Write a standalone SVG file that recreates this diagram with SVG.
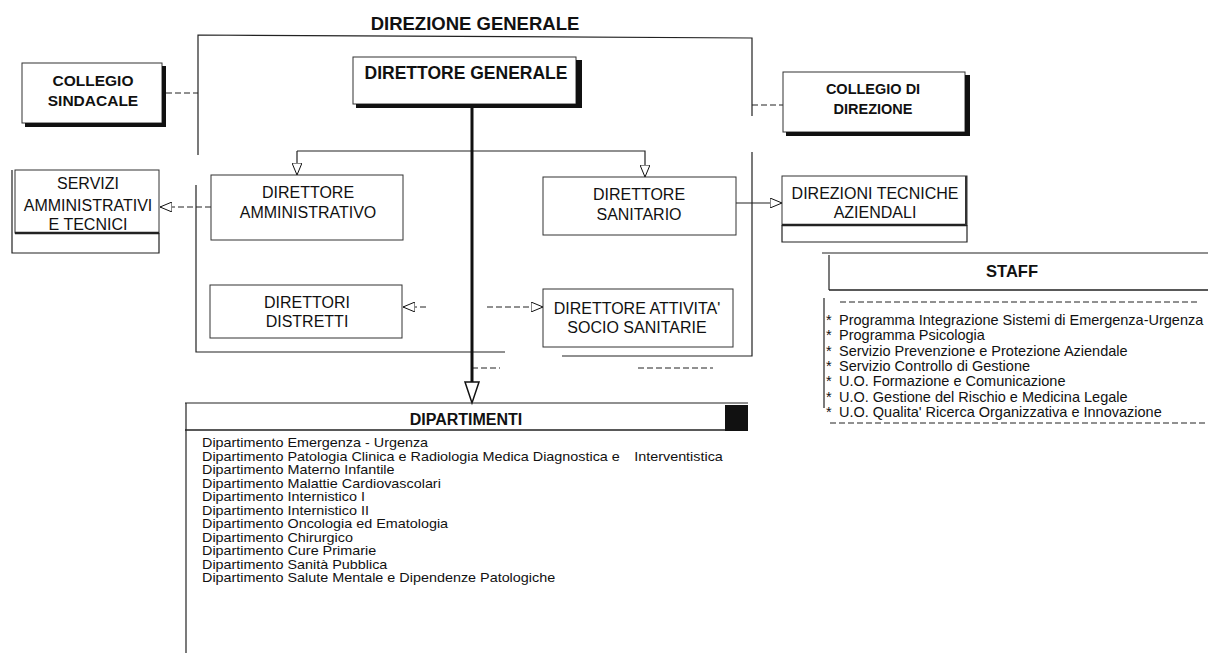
<svg xmlns="http://www.w3.org/2000/svg" width="1208" height="653" viewBox="0 0 1208 653">
<style>
text{font-family:"Liberation Sans",Arial,sans-serif;fill:#111}
.b{font-weight:bold}
.t16{font-size:16px;text-anchor:middle}
.box{fill:#fff;stroke:#333;stroke-width:1}
.sh{fill:#111}
.ln{fill:none;stroke:#222;stroke-width:1.2}
.dl{fill:none;stroke:#222;stroke-width:1;stroke-dasharray:6 3}
.thk{fill:none;stroke:#222;stroke-width:2.5}
.dep{font-size:12.5px}
.stf{font-size:14.5px}
</style>
<defs>
<marker id="open" viewBox="0 0 12 10" refX="12" refY="5" markerWidth="12" markerHeight="10" markerUnits="userSpaceOnUse" orient="auto">
<path d="M0,0 L12,5 L0,10 Z" fill="#fff" stroke="#111" stroke-width="1" stroke-dasharray="none"/>
</marker>
</defs>
<rect width="1208" height="653" fill="#fff"/>

<text x="475" y="30" class="b" font-size="18.5" text-anchor="middle">DIREZIONE GENERALE</text>

<g id="connectors">
<!-- upper frame -->
<path class="ln" d="M198,155 L198,35 L752,38 L752,116"/>
<path class="dl" d="M166,93 L198,93"/>
<path class="dl" d="M752,105 L783,105"/>
<!-- lower frame -->
<path class="ln" d="M297,151 L645,151 L645,177" marker-end="url(#open)"/>
<path class="ln" d="M297,151 L297,175" marker-end="url(#open)"/>
<path class="ln" d="M196,185 L196,352 L505,352"/>
<path class="ln" d="M752,152 L752,356 L562,356"/>
<path class="dl" d="M472,368 L500,368"/>
<path class="dl" d="M638,368 L713,368"/>
<!-- side arrows -->
<path class="dl" d="M211,207 L160,207" marker-end="url(#open)"/>
<path class="ln" d="M736,203 L782,203" marker-end="url(#open)"/>
<path class="dl" d="M426,307 L403,307" marker-end="url(#open)"/>
<path class="dl" d="M487,307 L543,307" marker-end="url(#open)"/>
<!-- main thick line to DIPARTIMENTI -->
<path d="M472,108 L472,382" stroke="#111" stroke-width="3" fill="none"/>
<polygon points="465,382 479,382 472,403" fill="#fff" stroke="#111" stroke-width="1.5"/>
</g>

<g id="collegio-sindacale">
<rect class="box" x="22" y="63" width="140" height="60"/>
<rect class="sh" x="162" y="66" width="4" height="61"/>
<rect class="sh" x="25" y="123" width="141" height="4"/>
<text x="93" y="86" class="b" font-size="15.5" text-anchor="middle">COLLEGIO</text>
<text x="93" y="106" class="b" font-size="15.5" text-anchor="middle">SINDACALE</text>
</g>

<g id="direttore-generale">
<rect class="box" x="353" y="57" width="223" height="47"/>
<rect class="sh" x="576" y="60" width="6" height="48"/>
<rect class="sh" x="356" y="104" width="226" height="4"/>
<text x="466" y="79" class="b" font-size="17.5" text-anchor="middle">DIRETTORE GENERALE</text>
</g>

<g id="collegio-direzione">
<rect class="box" x="783" y="72" width="182" height="60"/>
<rect class="sh" x="965" y="75" width="5" height="61"/>
<rect class="sh" x="786" y="132" width="184" height="4"/>
<text x="873" y="94" class="b" font-size="14.5" text-anchor="middle">COLLEGIO DI</text>
<text x="873" y="114" class="b" font-size="14.5" text-anchor="middle">DIREZIONE</text>
</g>

<g id="servizi">
<rect class="box" x="15" y="170" width="144" height="63"/>
<path class="thk" d="M15,233 L159,233"/>
<path class="ln" d="M12,170 L12,253 L159,253 L159,233"/>
<text x="88" y="189" class="t16">SERVIZI</text>
<text x="88" y="211" class="t16">AMMINISTRATIVI</text>
<text x="88" y="230" class="t16">E TECNICI</text>
</g>

<g id="direttore-amministrativo">
<rect class="box" x="211" y="175" width="192" height="65"/>
<text x="308" y="198" class="t16">DIRETTORE</text>
<text x="308" y="218" class="t16">AMMINISTRATIVO</text>
</g>

<g id="direttore-sanitario">
<rect class="box" x="543" y="177" width="193" height="58"/>
<text x="639" y="200" class="t16">DIRETTORE</text>
<text x="639" y="220" class="t16">SANITARIO</text>
</g>

<g id="direzioni-tecniche">
<rect class="box" x="782" y="176" width="185" height="49"/>
<path class="thk" d="M782,225 L967,225"/>
<path d="M966,176 L966,225" stroke="#333" stroke-width="2" fill="none"/>
<path class="ln" d="M782,225 L782,242 L967,242 L967,225"/>
<text x="875" y="199" class="t16">DIREZIONI TECNICHE</text>
<text x="875" y="218" class="t16">AZIENDALI</text>
</g>

<g id="direttori-distretti">
<rect class="box" x="210" y="285" width="192" height="53"/>
<text x="307" y="308" class="t16">DIRETTORI</text>
<text x="307" y="327" class="t16">DISTRETTI</text>
</g>

<g id="direttore-attivita">
<rect class="box" x="543" y="289" width="190" height="58"/>
<text x="637" y="314" class="t16">DIRETTORE ATTIVITA'</text>
<text x="637" y="333" class="t16">SOCIO SANITARIE</text>
</g>

<g id="staff">
<path class="ln" d="M822,253 L1208,253"/>
<path class="ln" d="M829,255 L829,290"/>
<path d="M829,290 L1208,290" stroke="#222" stroke-width="1.6" fill="none"/>
<path class="dl" d="M840,302 L1200,302"/>
<path class="ln" d="M824,298 L824,408"/>
<path class="dl" d="M830,423 L1208,423"/>
<text x="1012" y="277" class="b" font-size="16.5" text-anchor="middle">STAFF</text>
<g class="stf">
<text x="826" y="325">*</text><text x="839" y="325">Programma Integrazione Sistemi di Emergenza-Urgenza</text>
<text x="826" y="340">*</text><text x="839" y="340">Programma Psicologia</text>
<text x="826" y="356">*</text><text x="839" y="356">Servizio Prevenzione e Protezione Aziendale</text>
<text x="826" y="371">*</text><text x="839" y="371">Servizio Controllo di Gestione</text>
<text x="826" y="386">*</text><text x="839" y="386">U.O. Formazione e Comunicazione</text>
<text x="826" y="402">*</text><text x="839" y="402">U.O. Gestione del Rischio e Medicina Legale</text>
<text x="826" y="417">*</text><text x="839" y="417">U.O. Qualita' Ricerca Organizzativa e Innovazione</text>
</g>
</g>

<g id="dipartimenti">
<path class="ln" d="M185,403 L748,403"/>
<path d="M185,430 L725,430" stroke="#222" stroke-width="1.6" fill="none"/>
<rect class="sh" x="725" y="405" width="23" height="26"/>
<path class="ln" d="M186,403 L186,653"/>
<text x="466" y="425" class="b" font-size="16" text-anchor="middle">DIPARTIMENTI</text>
<g class="dep" transform="translate(202,0) scale(1.15,1)">
<text x="0" y="447.5">Dipartimento Emergenza - Urgenza</text>
<text x="0" y="461">Dipartimento Patologia Clinica e Radiologia Medica Diagnostica e <tspan dx="9">Interventistica</tspan></text>
<text x="0" y="474.5">Dipartimento Materno Infantile</text>
<text x="0" y="488">Dipartimento Malattie Cardiovascolari</text>
<text x="0" y="501.5">Dipartimento Internistico I</text>
<text x="0" y="515">Dipartimento Internistico II</text>
<text x="0" y="528.5">Dipartimento Oncologia ed Ematologia</text>
<text x="0" y="542">Dipartimento Chirurgico</text>
<text x="0" y="555.5">Dipartimento Cure Primarie</text>
<text x="0" y="569">Dipartimento Sanità Pubblica</text>
<text x="0" y="582.5">Dipartimento Salute Mentale e Dipendenze Patologiche</text>
</g>
</g>
</svg>
